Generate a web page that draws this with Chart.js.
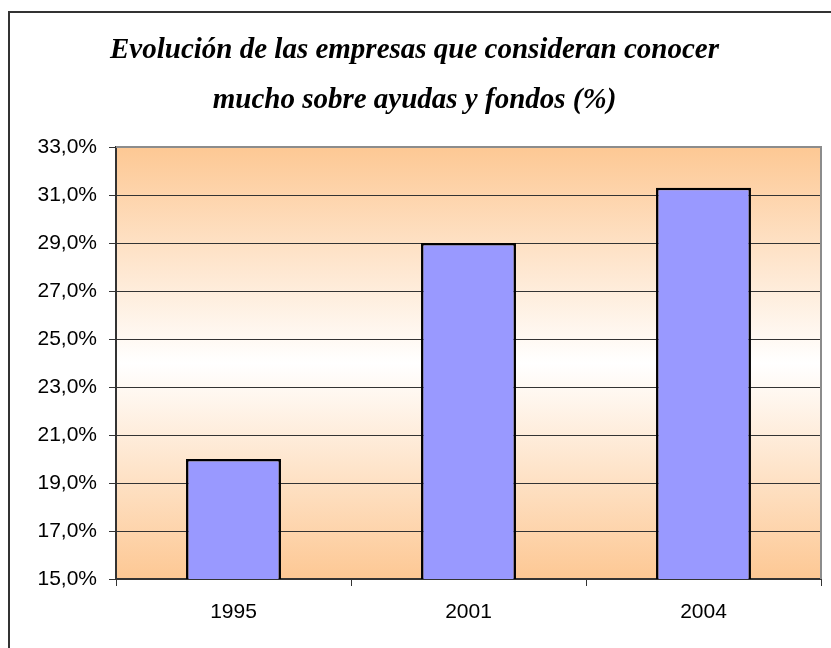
<!DOCTYPE html>
<html>
<head>
<meta charset="utf-8">
<script src="https://cdn.jsdelivr.net/npm/chart.js@4"></script>
<style>
  html, body { margin: 0; padding: 0; background: #fff; }
  #wrap { width: 831px; height: 648px; position: relative; }
</style>
</head>
<body>
<div id="wrap"><canvas id="grafico" width="831" height="648"></canvas></div>
<script>
// Datos del gráfico
var anios = ['1995', '2001', '2004'];
var porcentajes = [20.0, 29.0, 31.3];
var tituloLineas = ['Evolución de las empresas que consideran conocer', 'mucho sobre ayudas y fondos (%)'];
var ejeMin = 15, ejeMax = 33, ejePaso = 2;

// Fondo degradado del área del gráfico y marco exterior
var fondoPlugin = {
    id: 'fondo',
    beforeDraw: function (chart) {
        var ctx = chart.ctx, a = chart.chartArea;
        ctx.save();
        // marco exterior (solo se ven izquierda y arriba)
        ctx.strokeStyle = '#333333';
        ctx.lineWidth = 2;
        ctx.beginPath();
        ctx.moveTo(9, 700);
        ctx.lineTo(9, 12);
        ctx.lineTo(900, 12);
        ctx.stroke();
        // degradado naranja - blanco - naranja
        var g = ctx.createLinearGradient(0, a.top, 0, a.bottom);
        g.addColorStop(0, '#FDC894');
        g.addColorStop(0.5, '#FFFFFF');
        g.addColorStop(1, '#FDC894');
        ctx.fillStyle = g;
        ctx.fillRect(a.left, a.top, a.right - a.left, a.bottom - a.top);
        ctx.restore();
    },
    afterDatasetsDraw: function (chart) {
        var ctx = chart.ctx, a = chart.chartArea;
        ctx.save();
        ctx.strokeStyle = '#8c8c8c';
        ctx.lineWidth = 2;
        ctx.beginPath();
        ctx.moveTo(a.left, a.top);
        ctx.lineTo(a.right, a.top);
        ctx.lineTo(a.right, a.bottom);
        ctx.stroke();
        ctx.restore();
    }
};

new Chart(document.getElementById('grafico').getContext('2d'), {
    type: 'bar',
    data: {
        labels: anios,
        datasets: [{
            data: porcentajes,
            backgroundColor: '#9999FF',
            borderColor: '#000000',
            borderWidth: 2.5,
            barPercentage: 0.404,
            categoryPercentage: 1.0
        }]
    },
    options: {
        responsive: false,
        animation: false,
        layout: { padding: { top: 26, left: 8, right: 10, bottom: 0 } },
        plugins: {
            legend: { display: false },
            tooltip: { enabled: false },
            title: {
                display: true,
                text: tituloLineas,
                color: '#000000',
                font: { family: '"Liberation Serif", "Times New Roman", serif', size: 29, weight: 'bold', style: 'italic', lineHeight: 50 / 29 },
                padding: { top: 0, bottom: 21 }
            }
        },
        scales: {
            x: {
                afterFit: function (scale) { scale.height = 69; },
                grid: { drawOnChartArea: false, drawTicks: true, tickLength: 7, color: '#333333', offset: true },
                border: { color: '#333333', width: 2 },
                ticks: { color: '#000000', padding: 14, font: { family: '"Liberation Sans", Arial, sans-serif', size: 21 } }
            },
            y: {
                min: ejeMin,
                max: ejeMax,
                afterFit: function (scale) { scale.width = 108; },
                grid: {
                    color: function (c) { return c.tick && c.tick.value === ejeMax ? 'rgba(0,0,0,0)' : '#333333'; },
                    tickColor: '#333333',
                    tickLength: 7,
                    lineWidth: 1
                },
                border: { color: '#333333', width: 2 },
                ticks: {
                    stepSize: ejePaso,
                    color: '#000000',
                    padding: 12,
                    font: { family: '"Liberation Sans", Arial, sans-serif', size: 21 },
                    callback: function (v) { return v.toFixed(1).replace('.', ',') + '%'; }
                }
            }
        }
    },
    plugins: [fondoPlugin]
});
</script>
</body>
</html>
